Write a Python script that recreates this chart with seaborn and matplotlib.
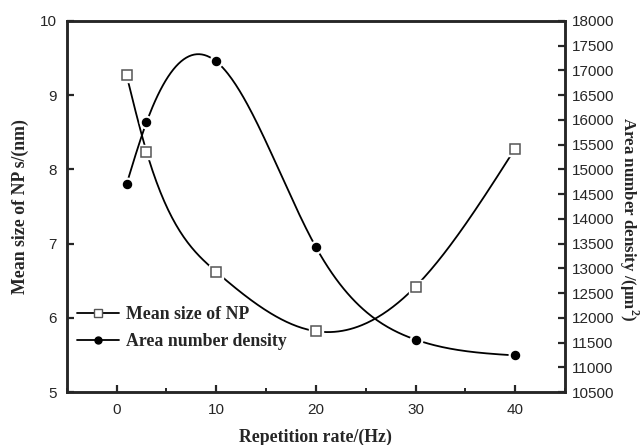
import numpy as np
import pandas as pd
import matplotlib
matplotlib.use("Agg")
import matplotlib.pyplot as plt
from matplotlib.lines import Line2D
from matplotlib.ticker import MultipleLocator
import seaborn as sns

# data
rate = [1, 3, 10, 20, 30, 40]
mean_size = [9.27, 8.24, 6.62, 5.82, 6.42, 8.28]
area_density = [14700, 15950, 17180, 13430, 11560, 11240]


def natural_spline(x, y, n=300):
    # natural cubic spline through the points, only for drawing the smooth line
    x = np.asarray(x, float)
    y = np.asarray(y, float)
    k = len(x)
    h = np.diff(x)
    A = np.zeros((k, k))
    b = np.zeros(k)
    A[0, 0] = A[-1, -1] = 1
    for i in range(1, k - 1):
        A[i, i - 1] = h[i - 1]
        A[i, i] = 2 * (h[i - 1] + h[i])
        A[i, i + 1] = h[i]
        b[i] = 6 * ((y[i + 1] - y[i]) / h[i] - (y[i] - y[i - 1]) / h[i - 1])
    M = np.linalg.solve(A, b)
    xs = np.linspace(x[0], x[-1], n)
    j = np.clip(np.searchsorted(x, xs) - 1, 0, k - 2)
    t0 = x[j + 1] - xs
    t1 = xs - x[j]
    hj = h[j]
    ys = (M[j] * t0**3 + M[j + 1] * t1**3) / (6 * hj) \
        + (y[j] / hj - M[j] * hj / 6) * t0 + (y[j + 1] / hj - M[j + 1] * hj / 6) * t1
    return pd.DataFrame({"x": xs, "y": ys})


sns.set_style("ticks")
plt.rcParams["font.family"] = ["Liberation Sans", "DejaVu Sans"]
plt.rcParams["mathtext.fontset"] = "custom"
plt.rcParams["mathtext.rm"] = "Liberation Serif:bold"
plt.rcParams["mathtext.bf"] = "Liberation Serif:bold"

fig = plt.figure(figsize=(6.42, 4.45), dpi=100)
ax = fig.add_axes([0.104, 0.119, 0.776, 0.834])
ax2 = ax.twinx()

serif = dict(family="Liberation Serif", weight="bold")

# mean size (left axis)
sns.lineplot(data=natural_spline(rate, mean_size), x="x", y="y", ax=ax,
             color="black", lw=1.3, sort=False, zorder=2)
ax.plot(rate, mean_size, ls="none", marker="s", ms=10.5, mfc="white", mec="white", zorder=3)
ax.plot(rate, mean_size, ls="none", marker="s", ms=7.5, mfc="white", mec="#555555",
        mew=1.1, zorder=4)

# area density (right axis)
sns.lineplot(data=natural_spline(rate, area_density), x="x", y="y", ax=ax2,
             color="black", lw=1.3, sort=False, zorder=2)
ax2.plot(rate, area_density, ls="none", marker="o", ms=9, mfc="white", mec="white", zorder=3)
ax2.plot(rate, area_density, ls="none", marker="o", ms=5.8, mfc="black", mec="black", zorder=4)

ax.set_xlim(-5, 45)
ax.set_ylim(5, 10)
ax2.set_ylim(10500, 18000)
ax.xaxis.set_major_locator(MultipleLocator(10))
ax.xaxis.set_minor_locator(MultipleLocator(5))
ax.yaxis.set_major_locator(MultipleLocator(1))
ax2.yaxis.set_major_locator(MultipleLocator(500))

ax.tick_params(axis="x", which="major", direction="in", length=5, width=1.6,
               labelsize=11, pad=8, top=False)
ax.tick_params(axis="x", which="minor", direction="in", length=3, width=1.4, top=False)
ax.tick_params(axis="y", direction="in", length=5, width=1.6, labelsize=11, pad=7)
ax2.tick_params(axis="y", direction="in", length=5, width=1.6, labelsize=11, pad=5)

for a in (ax, ax2):
    for s in a.spines.values():
        s.set_linewidth(1.8)
        s.set_visible(True)

ax.set_xlabel("Repetition rate/(Hz)", fontsize=12.8, labelpad=8, **serif)
ax.set_ylabel("Mean size of NP s/(nm)", fontsize=12.8, labelpad=8, **serif)
ax2.set_ylabel(r"Area number density /($\mathregular{\mu}$m$^2$)", fontsize=12.2,
               rotation=270, va="bottom", **serif)
ax2.yaxis.set_label_coords(1.105, 0.465)

handles = [
    Line2D([], [], color="black", lw=1.3, marker="s", ms=6, mfc="white", mec="#555555"),
    Line2D([], [], color="black", lw=1.3, marker="o", ms=5, mfc="black", mec="black"),
]
ax2.legend(handles, ["Mean size of NP", "Area number density"], loc="lower left",
           bbox_to_anchor=(-0.005, 0.08), frameon=False, handlelength=2.4,
           handletextpad=0.4, labelspacing=0.55, borderpad=0.2,
           prop=dict(family="Liberation Serif", weight="bold", size=12.8))

fig.savefig("out.png", dpi=100)
